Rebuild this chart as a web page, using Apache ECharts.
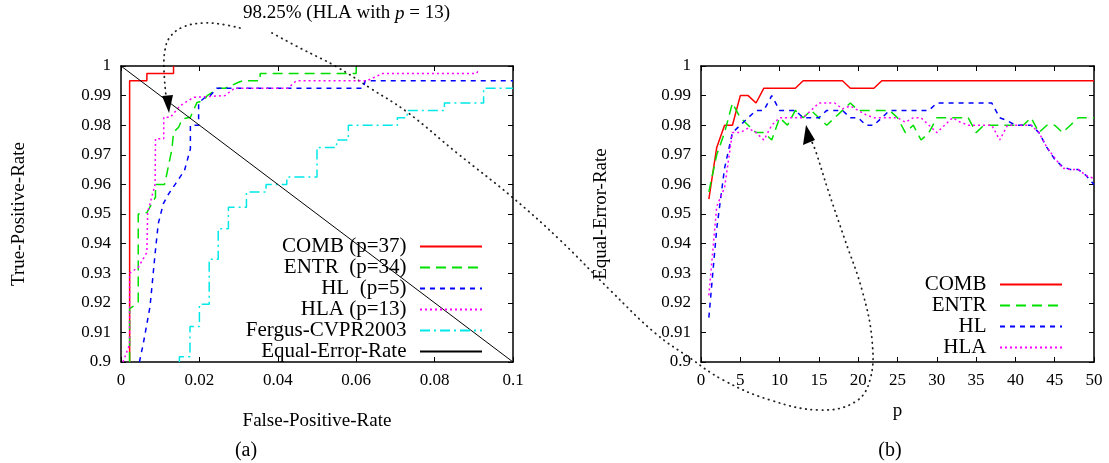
<!DOCTYPE html>
<html>
<head>
<meta charset="utf-8">
<script src="https://cdn.jsdelivr.net/npm/echarts@6/dist/echarts.min.js"></script>
<style>
html, body { margin: 0; background: #fff; }
#chart { width: 1109px; height: 463px; }
</style>
</head>
<body>
<div id="chart"></div>
<script>
// (a) ROC curves, [false positive rate, true positive rate]
var combRoc = [[0.0022, 0.9], [0.0022, 0.995], [0.0066, 0.995], [0.0066, 0.9975], [0.0134, 0.9975], [0.0134, 1]];
var entrRoc = [[0.0022, 0.9], [0.0022, 0.918], [0.0044, 0.92], [0.0044, 0.95], [0.0066, 0.9505], [0.0088, 0.9557],
    [0.0088, 0.96], [0.0111, 0.96], [0.0117, 0.9636], [0.013, 0.972], [0.0134, 0.9776], [0.0147, 0.9793],
    [0.0156, 0.9821], [0.0177, 0.9827], [0.0194, 0.9877], [0.0211, 0.9883], [0.022, 0.99], [0.0249, 0.9925],
    [0.0266, 0.9925], [0.03, 0.9945], [0.031, 0.995], [0.0355, 0.995], [0.0355, 0.9975], [0.06, 0.9975], [0.06, 1]];
var hlRoc = [[0.0047, 0.9], [0.0057, 0.9063], [0.0074, 0.9187], [0.0087, 0.9366], [0.0095, 0.9467], [0.0108, 0.9535],
    [0.0122, 0.9569], [0.0139, 0.9602], [0.0162, 0.9647], [0.0177, 0.972], [0.0177, 0.98], [0.0198, 0.98],
    [0.0198, 0.9875], [0.0215, 0.9895], [0.0228, 0.99], [0.0244, 0.9925], [0.0618, 0.9925], [0.0623, 0.995], [0.1, 0.995]];
var hlaRoc = [[0.0005, 0.9], [0.0022, 0.906], [0.0022, 0.93], [0.0044, 0.932], [0.0066, 0.937], [0.0068, 0.9505],
    [0.0087, 0.96], [0.0088, 0.9754], [0.0109, 0.9754], [0.0109, 0.9827], [0.0126, 0.9827], [0.0151, 0.9866],
    [0.0185, 0.9894], [0.019, 0.99], [0.0265, 0.99], [0.029, 0.9925], [0.0426, 0.9925], [0.0447, 0.995],
    [0.0627, 0.995], [0.0668, 0.9975], [0.0907, 0.9975], [0.0911, 0.9983]];
var fergusRoc = [[0.0149, 0.9], [0.0149, 0.9018], [0.0176, 0.9018], [0.0176, 0.912], [0.02, 0.912], [0.02, 0.9195],
    [0.0225, 0.9195], [0.0225, 0.9347], [0.0248, 0.9347], [0.0248, 0.945], [0.0274, 0.945], [0.0274, 0.9523],
    [0.032, 0.9523], [0.032, 0.9574], [0.037, 0.9574], [0.037, 0.96], [0.0423, 0.96], [0.0423, 0.9625],
    [0.05, 0.9625], [0.05, 0.9725], [0.055, 0.9725], [0.055, 0.975], [0.058, 0.975], [0.058, 0.98],
    [0.0705, 0.98], [0.0705, 0.9825], [0.073, 0.9825], [0.073, 0.985], [0.0825, 0.985], [0.0825, 0.9875],
    [0.0925, 0.9875], [0.0925, 0.9925], [0.1, 0.9925]];
var eerLine = [[0, 1], [0.1, 0.9]];
var rocNames = ['COMB (p=37)', 'ENTR  (p=34)', 'HL  (p=5)', 'HLA (p=13)', 'Fergus-CVPR2003', 'Equal-Error-Rate'];

// (b) equal error rate against p
var pValues = [1, 2, 3, 4, 5, 6, 7, 8, 9, 10, 11, 12, 13, 14, 15, 16, 17, 18, 19, 20, 21, 22, 23, 24, 25,
    26, 27, 28, 29, 30, 31, 32, 33, 34, 35, 36, 37, 38, 39, 40, 41, 42, 43, 44, 45, 46, 47, 48, 49, 50];
var combEer = [0.955, 0.9725, 0.98, 0.98, 0.99, 0.99, 0.9875, 0.9925, 0.9925, 0.9925, 0.9925, 0.9925, 0.995, 0.995,
    0.995, 0.995, 0.995, 0.995, 0.9925, 0.9925, 0.9925, 0.9925, 0.995, 0.995, 0.995, 0.995, 0.995, 0.995, 0.995,
    0.995, 0.995, 0.995, 0.995, 0.995, 0.995, 0.995, 0.995, 0.995, 0.995, 0.995, 0.995, 0.995, 0.995, 0.995,
    0.995, 0.995, 0.995, 0.995, 0.995, 0.995];
var entrEer = [0.9575, 0.97, 0.9775, 0.9875, 0.9825, 0.98, 0.9775, 0.9775, 0.975, 0.9825, 0.98, 0.985, 0.9825, 0.985,
    0.9825, 0.98, 0.9825, 0.985, 0.9875, 0.985, 0.985, 0.985, 0.985, 0.985, 0.9825, 0.9775, 0.98, 0.975, 0.9775,
    0.9825, 0.9825, 0.9825, 0.9825, 0.9825, 0.9775, 0.98, 0.98, 0.98, 0.98, 0.98, 0.98, 0.9825, 0.9775, 0.98,
    0.98, 0.9775, 0.98, 0.9825, 0.9825, 0.9825];
var hlEer = [0.915, 0.945, 0.9655, 0.9775, 0.98, 0.9825, 0.985, 0.985, 0.99, 0.985, 0.985, 0.985, 0.9825, 0.9825,
    0.9825, 0.985, 0.985, 0.985, 0.9825, 0.9825, 0.98, 0.98, 0.9825, 0.985, 0.985, 0.985, 0.985, 0.985, 0.985,
    0.9875, 0.9875, 0.9875, 0.9875, 0.9875, 0.9875, 0.9875, 0.9875, 0.9825, 0.9815, 0.98, 0.98, 0.98, 0.9775,
    0.9725, 0.9685, 0.966, 0.965, 0.965, 0.963, 0.96];
var hlaEer = [0.9225, 0.9525, 0.959, 0.9775, 0.9775, 0.979, 0.9775, 0.975, 0.98, 0.9825, 0.9825, 0.9825, 0.9825,
    0.985, 0.9875, 0.9875, 0.9875, 0.9855, 0.9865, 0.985, 0.9835, 0.9825, 0.9825, 0.9825, 0.9825, 0.981, 0.9825,
    0.9825, 0.98, 0.9775, 0.98, 0.9825, 0.981, 0.98, 0.98, 0.98, 0.98, 0.975, 0.98, 0.98, 0.98, 0.98, 0.9775,
    0.9725, 0.969, 0.9655, 0.965, 0.965, 0.963, 0.962];
var eerNames = ['COMB', 'ENTR', 'HL', 'HLA'];

var FONT = 'Liberation Serif';

function tickFmt(v) {
    return String(+v.toFixed(4));
}

// axis with ticks drawn inside, mirrored on top/right without labels
function mkAxis(grid, pos, min, max, step, label, name, gap) {
    return {
        type: 'value', gridIndex: grid, position: pos,
        min: min, max: max, interval: step,
        name: name || '', nameLocation: 'middle', nameGap: gap || 0,
        nameTextStyle: { fontFamily: FONT, fontSize: 19, color: '#000' },
        axisLine: { show: true, onZero: false, lineStyle: { color: '#000', width: 1.5 } },
        axisTick: { show: true, inside: true, length: 5, lineStyle: { color: '#000', width: 1 } },
        axisLabel: { show: label, formatter: tickFmt, fontFamily: FONT, fontSize: 17, color: '#000', margin: 10 },
        splitLine: { show: false }
    };
}

function mkLine(name, data, color, type, width, xi, yi) {
    return {
        name: name, type: 'line', data: data,
        xAxisIndex: xi, yAxisIndex: yi,
        symbol: 'none', showSymbol: false,
        lineStyle: { color: color, type: type, width: width, cap: 'butt' },
        itemStyle: { color: color },
        emphasis: { disabled: true }
    };
}

function pairs(xs, ys) {
    var out = [];
    for (var i = 0; i < xs.length; i++) out.push([xs[i], ys[i]]);
    return out;
}

function mkLegend(names, right, top, textW) {
    return {
        data: names, orient: 'vertical', align: 'right',
        right: right, top: top,
        itemWidth: 62, itemHeight: 12, itemGap: 0,
        selectedMode: false,
        // hide the point marker, keep only the line sample
        itemStyle: { color: 'transparent', borderColor: 'transparent', borderWidth: 0, opacity: 0 },
        formatter: function (n) { return '{t|' + n + '}'; },
        textStyle: {
            rich: {
                t: { width: textW, align: 'right', fontFamily: FONT, fontSize: 21, lineHeight: 18,
                    color: '#000', padding: [0, 8.5, 0, 0] }
            }
        }
    };
}

var annotLeft = [[240, 28], [220, 24], [203, 23], [183, 27], [170, 37], [165, 50], [164, 70], [166, 96]];
var annotRight = [[272, 33], [300, 48], [337, 67], [370, 88], [407, 112], [457, 153], [512, 197], [560, 240],
    [610, 290], [655, 333], [690, 358], [723, 380], [770, 400], [820, 410], [855, 402], [870, 380],
    [872, 340], [862, 290], [845, 240], [828, 190], [816, 152], [812, 142]];

var dotStyle = { stroke: '#222', lineWidth: 1.8, lineDash: [0.5, 5], lineCap: 'round', fill: null };

var chart = echarts.init(document.getElementById('chart'), null, { renderer: 'canvas' });
chart.setOption({
    animation: false,
    backgroundColor: '#fff',
    grid: [
        { left: 121, top: 66, width: 392, height: 296 },
        { left: 701, top: 66, width: 393, height: 296 }
    ],
    xAxis: [
        mkAxis(0, 'bottom', 0, 0.1, 0.02, true, 'False-Positive-Rate', 50),
        mkAxis(0, 'top', 0, 0.1, 0.02, false),
        mkAxis(1, 'bottom', 0, 50, 5, true, 'p', 40),
        mkAxis(1, 'top', 0, 50, 5, false)
    ],
    yAxis: [
        mkAxis(0, 'left', 0.9, 1, 0.01, true, 'True-Positive-Rate', 92),
        mkAxis(0, 'right', 0.9, 1, 0.01, false),
        mkAxis(1, 'left', 0.9, 1, 0.01, true, 'Equal-Error-Rate', 90),
        mkAxis(1, 'right', 0.9, 1, 0.01, false)
    ],
    legend: [
        mkLegend(rocNames, 621, 231, 160),
        mkLegend(eerNames, 41, 269, 80)
    ],
    series: [
        mkLine(rocNames[0], combRoc, '#ff0000', 'solid', 1.5, 0, 0),
        mkLine(rocNames[1], entrRoc, '#00e000', [10, 6], 1.5, 0, 0),
        mkLine(rocNames[2], hlRoc, '#0000ff', [5, 5], 1.5, 0, 0),
        mkLine(rocNames[3], hlaRoc, '#ff00ff', [2, 3], 1.5, 0, 0),
        mkLine(rocNames[4], fergusRoc, '#00e8e8', [10, 4, 2, 4], 1.5, 0, 0),
        mkLine(rocNames[5], eerLine, '#000000', 'solid', 1, 0, 0),
        mkLine(eerNames[0], pairs(pValues, combEer), '#ff0000', 'solid', 1.5, 2, 2),
        mkLine(eerNames[1], pairs(pValues, entrEer), '#00e000', [10, 6], 1.5, 2, 2),
        mkLine(eerNames[2], pairs(pValues, hlEer), '#0000ff', [5, 5], 1.5, 2, 2),
        mkLine(eerNames[3], pairs(pValues, hlaEer), '#ff00ff', [2, 3], 1.5, 2, 2)
    ],
    graphic: [
        {
            type: 'text', x: 243, y: 4,
            style: {
                text: '{a|98.25% (HLA with }{i|p}{a| = 13)}',
                rich: {
                    a: { fontFamily: FONT, fontSize: 19, fill: '#000' },
                    i: { fontFamily: FONT, fontSize: 19, fontStyle: 'italic', fill: '#000' }
                }
            }
        },
        { type: 'polyline', shape: { points: annotLeft, smooth: 0.4 }, style: dotStyle },
        { type: 'polygon', shape: { points: [[162, 96], [173, 95], [169, 113]] }, style: { fill: '#000' } },
        { type: 'polyline', shape: { points: annotRight, smooth: 0.4 }, style: dotStyle },
        { type: 'polygon', shape: { points: [[803, 145], [815, 140], [806, 125]] }, style: { fill: '#000' } },
        {
            type: 'text', x: 246, y: 451,
            style: { text: '(a)', fontFamily: FONT, fontSize: 20, fill: '#000', align: 'center', verticalAlign: 'middle' }
        },
        {
            type: 'text', x: 890, y: 451,
            style: { text: '(b)', fontFamily: FONT, fontSize: 20, fill: '#000', align: 'center', verticalAlign: 'middle' }
        }
    ]
});
</script>
</body>
</html>
